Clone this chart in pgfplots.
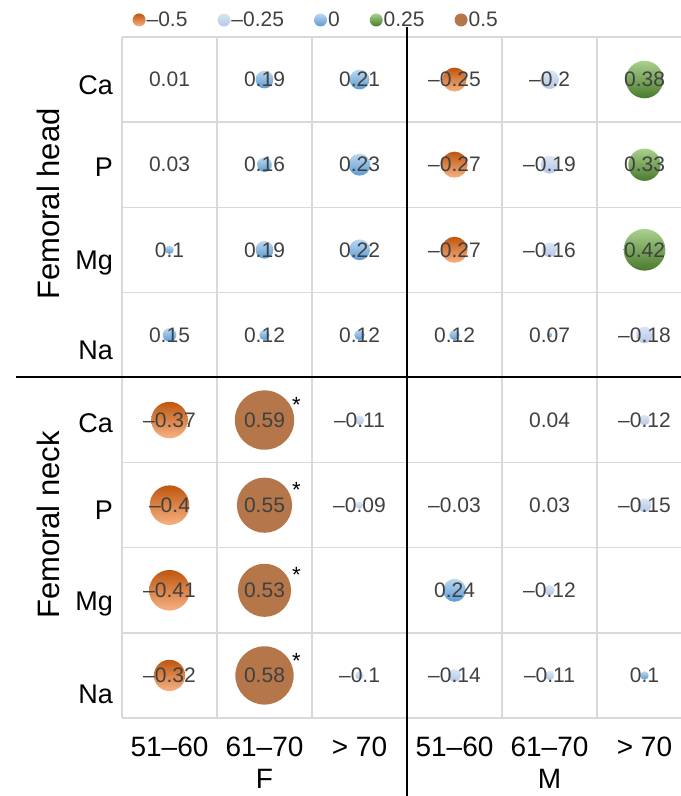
\documentclass[border=0pt]{standalone}
\usepackage{pgfplots}
\pgfplotsset{compat=1.18}
\usepackage{pgfplotstable}
\usepackage{fontspec}
\setmainfont{Liberation Sans}
\definecolor{txt}{HTML}{404040}
\definecolor{gridc}{HTML}{D9D9D9}
\definecolor{orT}{HTML}{BF560E}
\definecolor{orM}{HTML}{ED7D31}
\definecolor{orB}{HTML}{F6B283}
\definecolor{lbT}{HTML}{DCE6F4}
\definecolor{lbB}{HTML}{B4C7E7}
\definecolor{blT}{HTML}{BDD7EE}
\definecolor{blB}{HTML}{5B9BD5}
\definecolor{grT}{HTML}{A9D18E}
\definecolor{grM}{HTML}{70AD47}
\definecolor{grB}{HTML}{4A7A2C}
\definecolor{brn}{HTML}{B5764A}
\pgfdeclareplotmark{empty}{}

% x: 0..5 = F 51-60, F 61-70, F >70, M 51-60, M 61-70, M >70
% y: 7..4 = Femoral head Ca,P,Mg,Na ; 3..0 = Femoral neck Ca,P,Mg,Na
% cls: 1 orange, 2 light blue, 3 blue, 4 green, 5 brown
\pgfplotstableread{
x y v cls lab
0 7 0.01 3 0.01
1 7 0.19 3 0.19
2 7 0.21 3 0.21
3 7 -0.25 1 –0.25
4 7 -0.2 2 –0.2
5 7 0.38 4 0.38
0 6 0.03 3 0.03
1 6 0.16 3 0.16
2 6 0.23 3 0.23
3 6 -0.27 1 –0.27
4 6 -0.19 2 –0.19
5 6 0.33 4 0.33
0 5 0.1 3 0.1
1 5 0.19 3 0.19
2 5 0.22 3 0.22
3 5 -0.27 1 –0.27
4 5 -0.16 2 –0.16
5 5 0.42 4 0.42
0 4 0.15 3 0.15
1 4 0.12 3 0.12
2 4 0.12 3 0.12
3 4 0.12 3 0.12
4 4 0.07 3 0.07
5 4 -0.18 2 –0.18
0 3 -0.37 1 –0.37
1 3 0.59 5 0.59
2 3 -0.11 2 –0.11
4 3 0.04 3 0.04
5 3 -0.12 2 –0.12
0 2 -0.4 1 –0.4
1 2 0.55 5 0.55
2 2 -0.09 2 –0.09
3 2 -0.03 2 –0.03
4 2 0.03 3 0.03
5 2 -0.15 2 –0.15
0 1 -0.41 1 –0.41
1 1 0.53 5 0.53
3 1 0.24 3 0.24
4 1 -0.12 2 –0.12
0 0 -0.32 1 –0.32
1 0 0.58 5 0.58
2 0 -0.1 2 –0.1
3 0 -0.14 2 –0.14
4 0 -0.11 2 –0.11
5 0 0.1 3 0.1
}\cells

\pgfplotstableread{
x y
1 3
1 2
1 1
1 0
}\stars

\pgfplotsset{
  bubble/.style={scatter, only marks, mark=empty, forget plot,
    point meta=\thisrow{v},
    restrict expr to domain={\thisrow{cls}}{#1:#1},
    visualization depends on={max(52*abs(\thisrow{v})-1.0,0.7) \as \rr},
    scatter/@post marker code/.code={}},
}

\begin{document}
\begin{tikzpicture}
\begin{axis}[
  scale only axis, width=559pt, height=681pt,
  xmin=-0.5, xmax=5.384, ymin=-0.5, ymax=7.5,
  clip=false,
  axis line style={draw=none},
  xtick={0,...,5},
  xticklabels={51–60,61–70,> 70,51–60,61–70,> 70},
  ytick={-0.21,0.88,1.94,2.965,3.823,4.88,5.973,6.937},
  yticklabels={Na,Mg,P,Ca,Na,Mg,P,Ca},
  minor xtick={-0.5,0.5,1.5,2.5,3.5,4.5},
  minor ytick={-0.5,0.5,1.5,2.5,3.5,4.5,5.5,6.5,7.5},
  major tick length=0pt, minor tick length=0pt,
  grid=minor, minor grid style={gridc, line width=1.3pt},
  xticklabel style={font=\fontsize{28}{28}\selectfont, text=black, inner sep=0pt, anchor=north, yshift=-19pt},
  yticklabel style={font=\fontsize{27}{27}\selectfont, text=black, inner sep=0pt, anchor=base east, xshift=-9pt, yshift=-9.7pt},
  legend columns=-1,
  legend style={draw=none, fill=none, at={(0.019,1.025)}, anchor=west,
    inner sep=0pt, outer sep=0pt,
    font=\fontsize{21}{21}\selectfont, text=txt,
    nodes={inner sep=0pt},
    /tikz/every odd column/.append style={column sep=1pt},
    /tikz/every even column/.append style={column sep=30pt}},
]
\coordinate (AXSW) at (rel axis cs:0,0);
\coordinate (AXNE) at (rel axis cs:1,1);

\addlegendimage{legend image code/.code={\shade[draw=none, top color=orT, middle color=orM, bottom color=orB] (0pt,0pt) circle (6.5pt);}}
\addlegendentry{–0.5}
\addlegendimage{legend image code/.code={\shade[draw=none, top color=lbT, bottom color=lbB] (0pt,0pt) circle (6.5pt);}}
\addlegendentry{–0.25}
\addlegendimage{legend image code/.code={\shade[draw=none, top color=blT, bottom color=blB] (0pt,0pt) circle (6.5pt);}}
\addlegendentry{0}
\addlegendimage{legend image code/.code={\shade[draw=none, top color=grT, middle color=grM, bottom color=grB] (0pt,0pt) circle (6.5pt);}}
\addlegendentry{0.25}
\addlegendimage{legend image code/.code={\fill[draw=none, brn] (0pt,0pt) circle (6.5pt);}}
\addlegendentry{0.5}

\addplot[bubble=1, scatter/@pre marker code/.code={\shade[draw=none, top color=orT, middle color=orM, bottom color=orB] (0pt,0pt) circle[radius=\rr pt];}] table[x=x,y=y] {\cells};
\addplot[bubble=2, scatter/@pre marker code/.code={\shade[draw=none, top color=lbT, bottom color=lbB] (0pt,0pt) circle[radius=\rr pt];}] table[x=x,y=y] {\cells};
\addplot[bubble=3, scatter/@pre marker code/.code={\shade[draw=none, top color=blT, bottom color=blB] (0pt,0pt) circle[radius=\rr pt];}] table[x=x,y=y] {\cells};
\addplot[bubble=4, scatter/@pre marker code/.code={\shade[draw=none, top color=grT, middle color=grM, bottom color=grB] (0pt,0pt) circle[radius=\rr pt];}] table[x=x,y=y] {\cells};
\addplot[bubble=5, scatter/@pre marker code/.code={\fill[draw=none, brn] (0pt,0pt) circle[radius=\rr pt];}] table[x=x,y=y] {\cells};

\addplot[only marks, mark=empty, forget plot, point meta=explicit symbolic,
  nodes near coords,
  every node near coord/.append style={font=\fontsize{21}{21}\selectfont, text=txt, anchor=center, inner sep=0pt}]
  table[x=x, y=y, meta=lab] {\cells};

\addplot[only marks, mark=empty, forget plot,
  nodes near coords={*},
  every node near coord/.append style={font=\fontsize{22}{22}\selectfont, text=black, anchor=center, inner sep=0pt, xshift=32pt, yshift=15pt}]
  table[x=x, y=y] {\stars};

\draw[black, line width=2pt] (axis cs:2.5,7.617) -- (axis cs:2.5,-1.42);
\draw[black, line width=2pt] (axis cs:-1.616,3.5) -- (axis cs:5.384,3.5);
\node[rotate=90, font=\fontsize{31}{31}\selectfont] at (axis cs:-1.279,5.538) {Femoral head};
\node[rotate=90, font=\fontsize{31}{31}\selectfont] at (axis cs:-1.279,1.767) {Femoral neck};
\node[font=\fontsize{28}{28}\selectfont] at (axis cs:1,-1.21) {F};
\node[font=\fontsize{28}{28}\selectfont] at (axis cs:4,-1.21) {M};
\end{axis}
\pgfresetboundingbox
\path[use as bounding box] ([shift={(-122pt,-78pt)}]AXSW) rectangle ([shift={(0pt,37pt)}]AXNE);
\end{tikzpicture}
\end{document}
